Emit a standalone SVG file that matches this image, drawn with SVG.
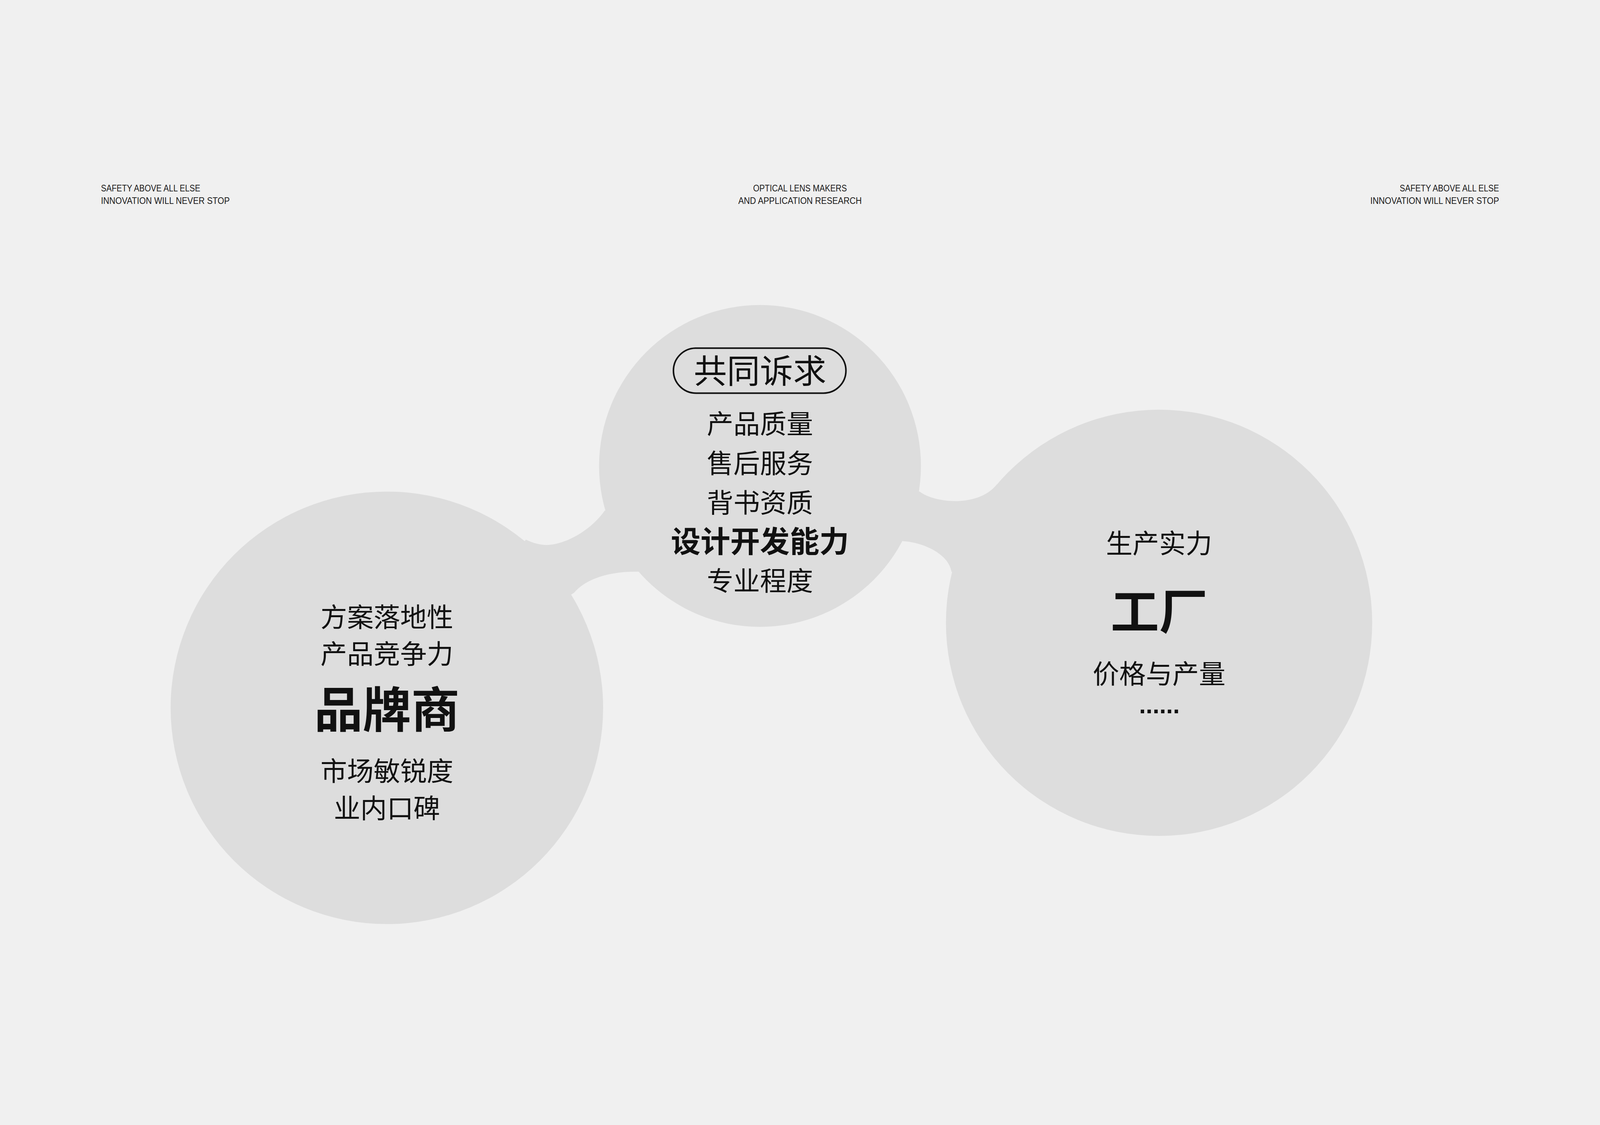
<svg xmlns="http://www.w3.org/2000/svg" width="5120" height="2880" viewBox="0 0 5120 2880">
<style>
svg{width:100vw;height:100vh;background:#f0f0f0}
.bg{fill:#f0f0f0}
.blob{fill:#dddddd}
.hd{font-family:"Liberation Sans",Arial,sans-serif;font-size:31px;fill:#1a1a1a}
.cn{font-family:"Noto Sans CJK SC","Noto Sans",sans-serif;fill:#111;text-anchor:middle}
.t85{font-size:85px}
.b{font-weight:700}
.pill{fill:none;stroke:#111;stroke-width:5}
</style>
<rect class="bg" x="0" y="0" width="5120" height="2880"/>
<g id="header">
<text class="hd" x="323" y="252" textLength="318" lengthAdjust="spacingAndGlyphs">SAFETY ABOVE ALL ELSE</text>
<text class="hd" x="323" y="293" textLength="412" lengthAdjust="spacingAndGlyphs">INNOVATION WILL NEVER STOP</text>
<text class="hd" x="2560" y="252" text-anchor="middle" textLength="300" lengthAdjust="spacingAndGlyphs">OPTICAL LENS MAKERS</text>
<text class="hd" x="2560" y="293" text-anchor="middle" textLength="395" lengthAdjust="spacingAndGlyphs">AND APPLICATION RESEARCH</text>
<text class="hd" x="4797" y="252" text-anchor="end" textLength="318" lengthAdjust="spacingAndGlyphs">SAFETY ABOVE ALL ELSE</text>
<text class="hd" x="4797" y="293" text-anchor="end" textLength="412" lengthAdjust="spacingAndGlyphs">INNOVATION WILL NEVER STOP</text>
</g>
<g id="connectors">
<path class="blob" d="M1683,1367 C1705,1378 1728,1384 1750,1384 C1800,1384 1885,1345 1935,1274 L2432,1131 L2056,1470 C1960,1465 1875,1490 1837,1537 L1238,1905 Z"/>
<path class="blob" d="M2943,1213 C2990,1250 3130,1265 3190,1190 L3709,1633 L3045,1470 C3035,1410 2950,1375 2890,1372 L2432,1131 Z"/>
</g>
<g id="brand">
<circle class="blob" cx="1238" cy="1905" r="692"/>
<text class="cn t85" x="1238" y="1646">方案落地性</text>
<text class="cn t85" x="1238" y="1764">产品竞争力</text>
<text class="cn b" x="1238" y="1968" font-size="155">品牌商</text>
<text class="cn t85" x="1238" y="2139">市场敏锐度</text>
<text class="cn t85" x="1238" y="2257">业内口碑</text>
</g>
<g id="common">
<circle class="blob" cx="2432" cy="1131" r="515"/>
<rect class="pill" x="2155" y="754" width="552" height="144" rx="72"/>
<text class="cn" x="2432" y="866" font-size="106">共同诉求</text>
<text class="cn t85" x="2432" y="1028">产品质量</text>
<text class="cn t85" x="2432" y="1154">售后服务</text>
<text class="cn t85" x="2432" y="1280">背书资质</text>
<text class="cn b" x="2432" y="1408" font-size="95">设计开发能力</text>
<text class="cn t85" x="2432" y="1530">专业程度</text>
</g>
<g id="factory">
<circle class="blob" cx="3709" cy="1633" r="682"/>
<text class="cn t85" x="3709" y="1410">生产实力</text>
<text class="cn b" x="3709" y="1654" font-size="155">工厂</text>
<text class="cn t85" x="3709" y="1828">价格与产量</text>
<text class="cn b" x="3710" y="1922" font-size="78" style="font-family:'Liberation Sans',Arial,sans-serif">......</text>
</g>
</svg>
